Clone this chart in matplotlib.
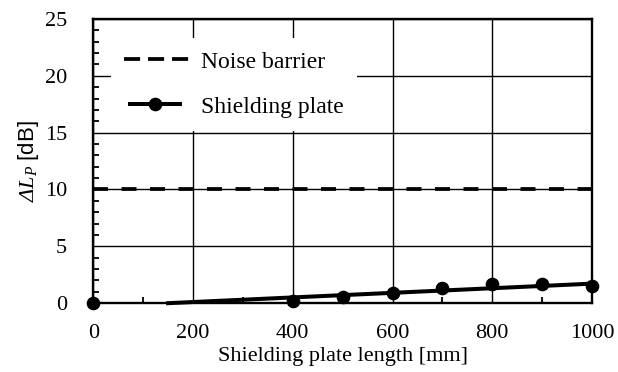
import matplotlib
matplotlib.use("Agg")
import matplotlib.pyplot as plt
from matplotlib.lines import Line2D
from matplotlib.ticker import MultipleLocator
from matplotlib.legend_handler import HandlerLine2D

plt.rcParams['font.family'] = ['Liberation Serif', 'DejaVu Serif']
plt.rcParams['mathtext.fontset'] = 'custom'
plt.rcParams['mathtext.rm'] = 'Liberation Serif'
plt.rcParams['mathtext.it'] = 'Liberation Serif:italic'
plt.rcParams['mathtext.sf'] = 'Liberation Sans'

# datos
largo = [0, 400, 500, 600, 700, 800, 900, 1000]
dl_placa = [0.0, 0.2, 0.5, 0.87, 1.3, 1.65, 1.65, 1.55]
tend_x = [150, 1000]
tend_y = [0.0, 1.72]
barrera_x = [0, 1000]
barrera_y = [10, 10]

FS = 16
FS_LEG = 17


class HandlerCorto(HandlerLine2D):
    # handle mas corto para la serie con marcador
    def create_artists(self, legend, orig_handle, xdescent, ydescent,
                       width, height, fontsize, trans):
        w2 = width * 0.7
        xd = xdescent - (width - w2) / 2 + 3.5
        return super().create_artists(legend, orig_handle, xd, ydescent,
                                      w2, height, fontsize, trans)


fig, ax = plt.subplots(figsize=(6.18, 3.72), dpi=100)
fig.subplots_adjust(left=0.151, right=0.958, top=0.949, bottom=0.185)

ax.grid(True, which='major', color='black', linewidth=1.0)
ax.set_axisbelow(True)

ax.plot(barrera_x, barrera_y, color='black', linestyle=(0, (4.0, 3.6)), linewidth=2.7, zorder=3)
ax.plot(tend_x, tend_y, color='black', linewidth=2.9, zorder=3, clip_on=False)
ax.plot(largo, dl_placa, 'o', color='black', markersize=8.8, zorder=4, clip_on=False)

ax.set_xlim(0, 1000)
ax.set_ylim(0, 25)
ax.xaxis.set_major_locator(MultipleLocator(200))
ax.xaxis.set_minor_locator(MultipleLocator(100))
ax.yaxis.set_major_locator(MultipleLocator(5))
ax.yaxis.set_minor_locator(MultipleLocator(1))
ax.tick_params(which='both', direction='in', labelsize=FS, width=1.3, color='black')
ax.tick_params(which='major', length=0)
ax.tick_params(axis='x', which='major', pad=15)
ax.tick_params(axis='y', which='major', pad=19)
ax.tick_params(which='minor', length=4.5)

for s in ax.spines.values():
    s.set_linewidth(1.7)

ax.set_xlabel('Shielding plate length [mm]', fontsize=FS, labelpad=3)
ax.set_ylabel(r'ΔL$_{\mathit{P}}\ \mathsf{[dB]}$', fontsize=FS, fontstyle='italic', labelpad=2.5)

h_barrera = Line2D([], [], color='black', linestyle=(0, (4.3, 2.1)), linewidth=2.7)
h_placa = Line2D([], [], color='black', linewidth=2.9, marker='o', markersize=8.8)
leg = ax.legend([h_barrera, h_placa], ['Noise barrier', 'Shielding plate'], loc='upper left',
                bbox_to_anchor=(0.036, 0.933), fontsize=FS_LEG, frameon=True,
                fancybox=False, edgecolor='none', facecolor='white', framealpha=1,
                handlelength=3.0, handletextpad=0.25, labelspacing=1.0,
                borderpad=0.55, borderaxespad=0,
                handler_map={h_placa: HandlerCorto()})
leg.set_zorder(5)

plt.savefig('out.png', dpi=100)
